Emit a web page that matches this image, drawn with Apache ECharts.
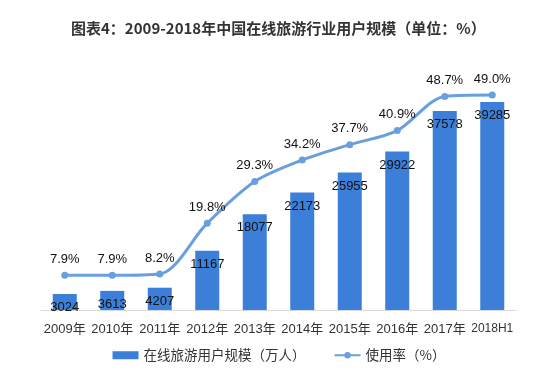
<!DOCTYPE html>
<html><head><meta charset="utf-8">
<script src="https://cdn.jsdelivr.net/npm/echarts@6/dist/echarts.min.js"></script>
<style>html,body{margin:0;padding:0;background:#fff}#c{width:558px;height:380px}</style>
</head><body><div id="c"></div>
<script>
const categories = ['2009年','2010年','2011年','2012年','2013年','2014年','2015年','2016年','2017年','2018H1'];
const users = [3024, 3613, 4207, 11167, 18077, 22173, 25955, 29922, 37578, 39285];
const rate = [7.9, 7.9, 8.2, 19.8, 29.3, 34.2, 37.7, 40.9, 48.7, 49.0];
const FONT = 'Liberation Sans, Arial, Noto Sans CJK SC, sans-serif';
const chart = echarts.init(document.getElementById('c'));
chart.setOption({
  animation: false,
  textStyle: {fontFamily: FONT},
  title: {
    text: '图表4：2009-2018年中国在线旅游行业用户规模（单位：%）',
    left: 66, top: 16,
    textStyle: {fontSize: 15, fontWeight: 'bold', color: '#333', fontFamily: 'Noto Sans CJK SC, sans-serif'}
  },
  legend: {
    bottom: 13, left: 'center', itemGap: 28, itemWidth: 26, itemHeight: 8,
    textStyle: {fontSize: 13.5, color: '#333', fontFamily: 'Noto Sans CJK SC, sans-serif'},
    data: [{name: '在线旅游用户规模（万人）', icon: 'rect'}, {name: '使用率（%）'}]
  },
  grid: {left: 41, right: 42, top: 60, bottom: 70},
  xAxis: {
    type: 'category', data: categories,
    axisLine: {lineStyle: {color: '#d9d9d9'}},
    axisTick: {show: false},
    axisLabel: {
      color: '#333', fontSize: 13, interval: 0, margin: 13,
      formatter: v => v === '2018H1' ? '{s|' + v + '}' : v,
      rich: {s: {fontSize: 12, color: '#333', padding: [0, 0, 8, 0]}}
    }
  },
  yAxis: [
    {type: 'value', min: 0, max: 47200, show: false, splitLine: {show: false}},
    {type: 'value', min: 0, max: 57, show: false, splitLine: {show: false}}
  ],
  series: [
    {
      name: '在线旅游用户规模（万人）', type: 'bar', data: users, barWidth: 24,
      itemStyle: {color: '#3b7fd9'},
      label: {show: true, position: 'insideTop', distance: 7, color: '#111', fontSize: 13}
    },
    {
      name: '使用率（%）', type: 'line', yAxisIndex: 1, data: rate, smooth: 0.3,
      symbol: 'circle', symbolSize: 7,
      lineStyle: {color: '#6a9fde', width: 3},
      itemStyle: {color: '#6a9fde'},
      label: {show: true, position: 'top', distance: 6, color: '#111', fontSize: 13, formatter: p => p.value.toFixed(1) + '%'}
    }
  ]
});
</script></body></html>
